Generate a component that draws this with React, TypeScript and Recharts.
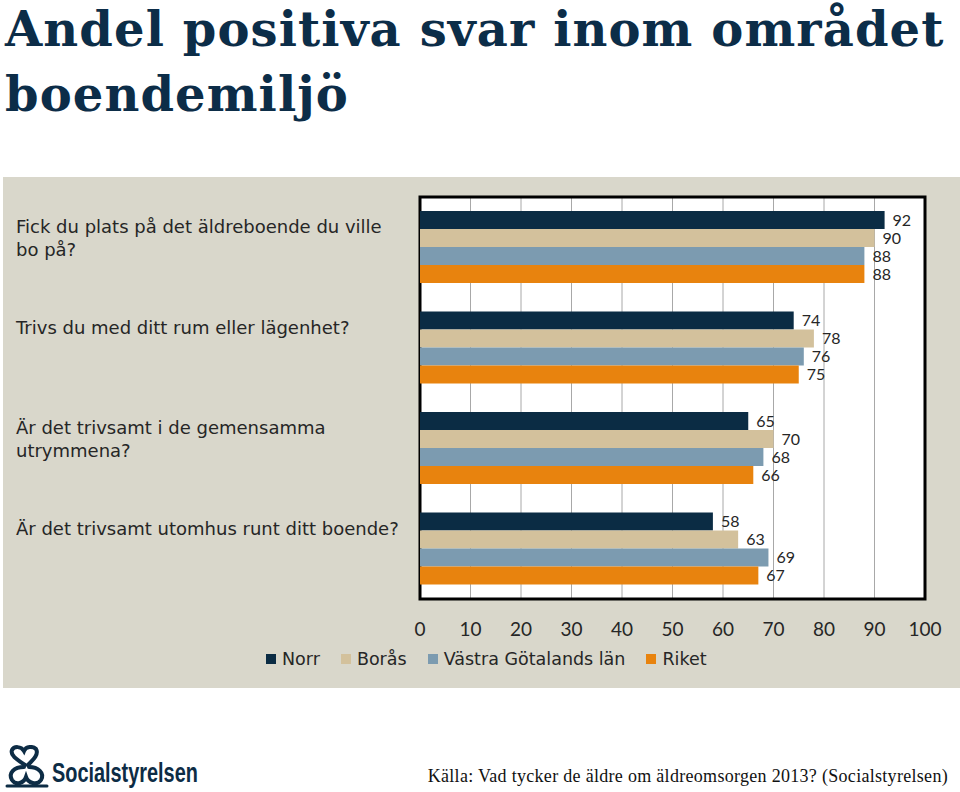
import React from 'react';
import {
  BarChart,
  Bar,
  XAxis,
  YAxis,
  CartesianGrid,
  Legend,
  LabelList,
  ReferenceArea,
} from 'recharts';

const questions = [
  'Fick du plats på det äldreboende du ville\nbo på?',
  'Trivs du med ditt rum eller lägenhet?',
  'Är det trivsamt i de gemensamma\nutrymmena?',
  'Är det trivsamt utomhus runt ditt boende?',
];
const norr = [92, 74, 65, 58];
const boras = [90, 78, 70, 63];
const vastraGotaland = [88, 76, 68, 69];
const riket = [88, 75, 66, 67];
const xTicks = [0, 10, 20, 30, 40, 50, 60, 70, 80, 90, 100];

const series = [
  { key: 'norr', name: 'Norr', color: '#0b2c44' },
  { key: 'boras', name: 'Borås', color: '#d3c19c' },
  { key: 'vgl', name: 'Västra Götalands län', color: '#7c9bb0' },
  { key: 'riket', name: 'Riket', color: '#e8830e' },
];

const data = questions.map((q, i) => ({
  q,
  norr: norr[i],
  boras: boras[i],
  vgl: vastraGotaland[i],
  riket: riket[i],
}));

const FONT = 'Lato, "Noto Sans", sans-serif';
const WIDE = '"DejaVu Sans", sans-serif';

function QuestionTick(props: any) {
  const { y, payload } = props;
  const lines = String(payload.value).split('\n');
  return (
    <text x={13} y={y - 21} fill="#262626" fontSize={18} fontFamily={WIDE} dominantBaseline="central">
      {lines.map((line, i) => (
        <tspan key={i} x={13} dy={i === 0 ? 0 : 22.5}>
          {line}
        </tspan>
      ))}
    </text>
  );
}

function ValueTick(props: any) {
  const { x, y, payload } = props;
  return (
    <text x={x} y={y + 29} fill="#262626" fontSize={19} fontFamily={FONT} textAnchor="middle" dominantBaseline="central">
      {payload.value}
    </text>
  );
}

function LegendContent(props: any) {
  const order = series.map((s) => s.name);
  const items = [...(props.payload || [])].sort(
    (a: any, b: any) => order.indexOf(a.value) - order.indexOf(b.value)
  );
  return (
    <div style={{ display: 'flex', alignItems: 'center', fontFamily: WIDE, fontSize: 17.5, color: '#262626' }}>
      {items.map((entry: any) => (
        <div key={entry.value} style={{ display: 'flex', alignItems: 'center', marginRight: 21 }}>
          <span style={{ width: 10, height: 10, background: entry.color, marginRight: 6, display: 'inline-block' }} />
          <span>{entry.value}</span>
        </div>
      ))}
    </div>
  );
}

function Emblem() {
  return (
    <svg width={46} height={44} viewBox="0 0 46 44" style={{ position: 'absolute', left: 4, top: 745 }}>
      <g fill="none" stroke="#0d2c45" strokeWidth={4} strokeLinecap="round">
        <path d="M21 20 C12 14 6 10 8 5 C10 1 17 1 20 6 C22 1 29 1 32 4 C35 9 30 14 24 20" />
        <path d="M20 22 C10 22 4 28 8 35 C12 41 20 38 22 32 C24 38 33 41 37 35 C41 28 34 22 25 22" />
        <path d="M3 41 L43 41" strokeWidth={3} />
      </g>
    </svg>
  );
}

const titleStyle: React.CSSProperties = {
  position: 'absolute',
  left: 5,
  fontFamily: '"DejaVu Serif", serif',
  fontWeight: 700,
  fontSize: 48,
  lineHeight: '48px',
  letterSpacing: 1.1,
  color: '#0c2d48',
  whiteSpace: 'nowrap',
};

export default function App() {
  return (
    <div style={{ position: 'absolute', left: 0, top: 0, width: 960, height: 792, background: '#fff', overflow: 'hidden' }}>
      <div style={{ ...titleStyle, top: 5 }}>Andel positiva svar inom området</div>
      <div style={{ ...titleStyle, top: 70 }}>boendemiljö</div>

      <div style={{ position: 'absolute', left: 3, top: 177, width: 957, height: 511, background: '#d9d7cb' }}>
        <BarChart
          width={957}
          height={511}
          data={data}
          layout="vertical"
          margin={{ top: 20, right: 35, bottom: 59, left: 0 }}
          barGap={0}
        >
          <CartesianGrid horizontal={false} stroke="#a8a8a8" fill="#ffffff" />
          <XAxis
            type="number"
            domain={[0, 100]}
            ticks={xTicks}
            height={30}
            tickLine={false}
            axisLine={false}
            tickSize={0}
            tickMargin={0}
            tick={<ValueTick />}
          />
          <YAxis
            type="category"
            dataKey="q"
            width={417}
            tickLine={false}
            axisLine={false}
            tick={<QuestionTick />}
          />
          {series.map((s) => (
            <Bar key={s.key} dataKey={s.key} name={s.name} fill={s.color} barSize={18} isAnimationActive={false}>
              <LabelList
                dataKey={s.key}
                position="right"
                offset={8}
                fill="#262626"
                fontSize={16}
                fontFamily={FONT}
              />
            </Bar>
          ))}
          <ReferenceArea x1={0} x2={100} fill="none" stroke="#000" strokeWidth={3} ifOverflow="visible" />
          <Legend
            layout="horizontal"
            verticalAlign="middle"
            align="center"
            content={<LegendContent />}
            wrapperStyle={{ left: 263, top: 472, width: 'auto' }}
          />
        </BarChart>
      </div>

      <Emblem />
      <div
        style={{
          position: 'absolute',
          left: 52,
          top: 758,
          fontFamily: '"Liberation Sans", sans-serif',
          fontWeight: 700,
          fontSize: 28,
          color: '#0d2c45',
          lineHeight: '30px',
          transform: 'scaleX(0.71)',
          transformOrigin: 'left center',
          whiteSpace: 'nowrap',
        }}
      >
        Socialstyrelsen
      </div>
      <div
        style={{
          position: 'absolute',
          right: 12,
          top: 764,
          fontFamily: '"Liberation Serif", serif',
          fontSize: 18,
          letterSpacing: 0.3,
          color: '#111',
          whiteSpace: 'nowrap',
          lineHeight: '24px',
        }}
      >
        Källa: Vad tycker de äldre om äldreomsorgen 2013? (Socialstyrelsen)
      </div>
    </div>
  );
}
